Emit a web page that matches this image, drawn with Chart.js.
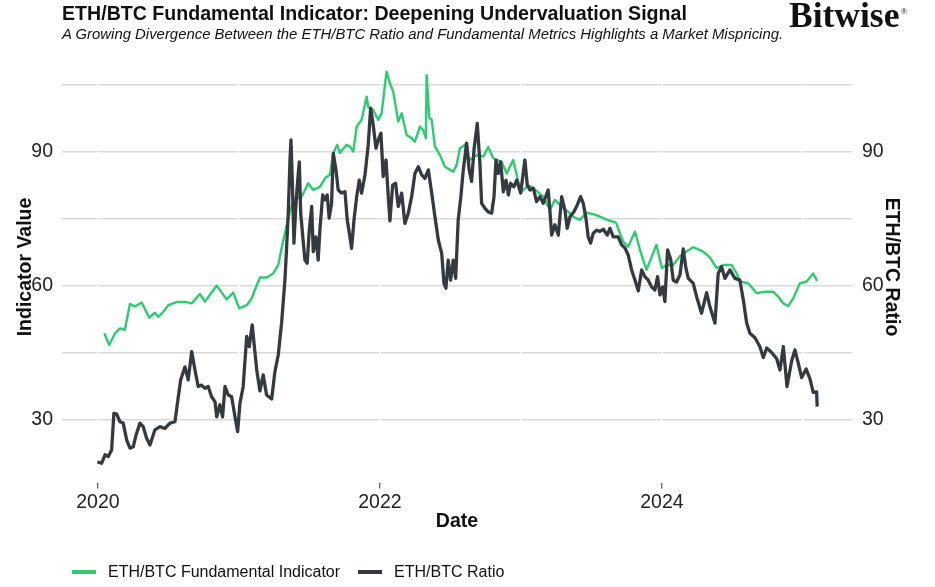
<!DOCTYPE html>
<html>
<head>
<meta charset="utf-8">
<script src="https://cdn.jsdelivr.net/npm/chart.js@4.4.1/dist/chart.umd.min.js"></script>
<style>
    html, body { margin: 0; padding: 0; background: #fff; }
    #wrap { position: relative; width: 935px; height: 587px; overflow: hidden; font-family: 'Liberation Sans', Arial, sans-serif; }
    #chart { position: absolute; left: 0; top: 0; }
    .title { position: absolute; left: 62px; top: 3.5px; font-size: 19.6px; line-height: 1; font-weight: bold; color: #111; white-space: nowrap; }
    .subtitle { position: absolute; left: 62px; top: 26.5px; font-size: 14.9px; line-height: 1; font-style: italic; color: #111; white-space: nowrap; }
    .logo { position: absolute; left: 789px; top: -2.5px; font-family: 'Liberation Serif', 'Times New Roman', serif; font-weight: bold; font-size: 35.5px; line-height: 1; color: #111; white-space: nowrap; }
    .logo sup { font-size: 9px; font-weight: normal; vertical-align: top; position: relative; top: 9px; left: 1px; }
    .legend { position: absolute; left: 72px; top: 563.5px; display: flex; align-items: center; font-size: 16px; line-height: 16px; color: #111; white-space: nowrap; }
    .legend .sw { width: 24px; height: 4px; margin-right: 12px; }
    .legend .item { display: flex; align-items: center; margin-right: 18px; }
</style>
</head>
<body>
<div id="wrap">
    <canvas id="chart" width="935" height="587"></canvas>
    <div class="title">ETH/BTC Fundamental Indicator: Deepening Undervaluation Signal</div>
    <div class="subtitle">A Growing Divergence Between the ETH/BTC Ratio and Fundamental Metrics Highlights a Market Mispricing.</div>
    <div class="logo">Bitwise<sup>®</sup></div>
    <div class="legend" id="legend"></div>
</div>
<script>
// Series (x = decimal year)
const indDates = [
    2020.045, 2020.080, 2020.121, 2020.156, 2020.191, 2020.227, 2020.262, 2020.310, 2020.364, 2020.404,
    2020.428, 2020.463, 2020.499, 2020.558, 2020.629, 2020.665, 2020.723, 2020.759, 2020.842, 2020.913,
    2020.960, 2021.002, 2021.055, 2021.090, 2021.113, 2021.149, 2021.196, 2021.243, 2021.279, 2021.303,
    2021.326, 2021.350, 2021.385, 2021.445, 2021.491, 2021.527, 2021.574, 2021.610, 2021.645, 2021.669,
    2021.697, 2021.716, 2021.764, 2021.787, 2021.811, 2021.835, 2021.870, 2021.906, 2021.917, 2021.952,
    2021.988, 2022.012, 2022.047, 2022.071, 2022.094, 2022.130, 2022.154, 2022.189, 2022.225, 2022.248,
    2022.284, 2022.307, 2022.326, 2022.331, 2022.350, 2022.367, 2022.390, 2022.426, 2022.461, 2022.520,
    2022.544, 2022.567, 2022.603, 2022.638, 2022.686, 2022.733, 2022.768, 2022.804, 2022.863, 2022.899,
    2022.945, 2022.981, 2023.005, 2023.040, 2023.064, 2023.111, 2023.158, 2023.206, 2023.241, 2023.289,
    2023.335, 2023.371, 2023.418, 2023.466, 2023.513, 2023.548, 2023.584, 2023.631, 2023.674, 2023.702,
    2023.726, 2023.761, 2023.809, 2023.844, 2023.890, 2023.961, 2024.000, 2024.033, 2024.080, 2024.128,
    2024.175, 2024.222, 2024.293, 2024.340, 2024.388, 2024.435, 2024.494, 2024.530, 2024.553, 2024.612,
    2024.672, 2024.731, 2024.790, 2024.825, 2024.861, 2024.896, 2024.932, 2024.979, 2025.027, 2025.073,
    2025.101
];
const indValues = [
    49.4, 46.8, 49.4, 50.5, 50.2, 56.0, 55.4, 56.3, 52.9, 54.0,
    53.1, 54.2, 55.7, 56.4, 56.4, 56.1, 58.2, 56.5, 60.1, 57.0,
    58.5, 55.0, 55.7, 57.2, 59.1, 61.9, 61.9, 62.8, 64.7, 68.5,
    71.8, 75.2, 79.3, 80.0, 83.0, 81.5, 82.2, 84.1, 84.9, 89.7,
    91.6, 89.8, 91.6, 91.2, 90.1, 95.7, 97.2, 102.4, 100.1, 99.4,
    97.2, 98.7, 108.0, 105.4, 103.5, 96.8, 98.7, 93.8, 93.1, 92.3,
    95.7, 94.9, 93.1, 107.2, 97.6, 97.2, 91.2, 89.3, 86.7, 85.6,
    87.1, 90.8, 91.6, 88.2, 89.3, 89.0, 91.1, 88.6, 87.8, 85.2,
    88.2, 83.4, 81.1, 82.2, 82.4, 81.3, 80.0, 77.0, 79.3, 77.8,
    76.6, 75.5, 74.8, 76.4, 76.1, 75.7, 75.2, 74.6, 74.2, 71.8,
    69.9, 68.8, 72.2, 68.1, 63.6, 69.2, 64.0, 64.7, 64.7, 66.7,
    67.7, 68.7, 67.7, 66.4, 64.0, 64.7, 64.7, 62.8, 61.0, 60.6,
    58.4, 58.7, 58.7, 57.6, 56.1, 55.5, 57.3, 60.6, 61.0, 62.8,
    61.1
];

const ratioDates = [
    2019.996, 2020.026, 2020.050, 2020.073, 2020.097, 2020.113, 2020.133, 2020.156, 2020.179, 2020.204,
    2020.227, 2020.250, 2020.270, 2020.298, 2020.321, 2020.345, 2020.369, 2020.404, 2020.440, 2020.475,
    2020.511, 2020.546, 2020.570, 2020.587, 2020.617, 2020.640, 2020.665, 2020.688, 2020.711, 2020.735,
    2020.759, 2020.782, 2020.806, 2020.830, 2020.842, 2020.865, 2020.884, 2020.901, 2020.924, 2020.948,
    2020.972, 2020.991, 2021.007, 2021.030, 2021.055, 2021.073, 2021.094, 2021.113, 2021.126, 2021.149,
    2021.172, 2021.196, 2021.232, 2021.255, 2021.279, 2021.303, 2021.326, 2021.338, 2021.350, 2021.362,
    2021.369, 2021.381, 2021.390, 2021.402, 2021.413, 2021.428, 2021.438, 2021.456, 2021.468, 2021.484,
    2021.499, 2021.516, 2021.527, 2021.546, 2021.562, 2021.574, 2021.594, 2021.610, 2021.626, 2021.640,
    2021.657, 2021.669, 2021.688, 2021.704, 2021.728, 2021.752, 2021.768, 2021.787, 2021.799, 2021.816,
    2021.835, 2021.853, 2021.870, 2021.894, 2021.917, 2021.934, 2021.952, 2021.972, 2021.988, 2022.007,
    2022.023, 2022.043, 2022.059, 2022.071, 2022.090, 2022.111, 2022.130, 2022.154, 2022.177, 2022.201,
    2022.225, 2022.248, 2022.272, 2022.296, 2022.319, 2022.343, 2022.367, 2022.390, 2022.414, 2022.438,
    2022.454, 2022.468, 2022.484, 2022.501, 2022.520, 2022.537, 2022.555, 2022.574, 2022.591, 2022.615,
    2022.633, 2022.650, 2022.667, 2022.690, 2022.709, 2022.721, 2022.745, 2022.768, 2022.792, 2022.809,
    2022.823, 2022.839, 2022.856, 2022.875, 2022.894, 2022.911, 2022.927, 2022.950, 2022.970, 2022.998,
    2023.028, 2023.045, 2023.064, 2023.088, 2023.111, 2023.135, 2023.158, 2023.193, 2023.206, 2023.218,
    2023.241, 2023.265, 2023.289, 2023.312, 2023.328, 2023.348, 2023.376, 2023.399, 2023.423, 2023.442,
    2023.461, 2023.477, 2023.494, 2023.513, 2023.537, 2023.560, 2023.584, 2023.612, 2023.631, 2023.655,
    2023.690, 2023.714, 2023.738, 2023.761, 2023.785, 2023.809, 2023.832, 2023.856, 2023.879, 2023.903,
    2023.927, 2023.950, 2023.969, 2023.986, 2024.005, 2024.021, 2024.040, 2024.062, 2024.080, 2024.104,
    2024.128, 2024.151, 2024.170, 2024.187, 2024.222, 2024.246, 2024.281, 2024.317, 2024.340, 2024.376,
    2024.399, 2024.423, 2024.447, 2024.482, 2024.518, 2024.553, 2024.577, 2024.601, 2024.624, 2024.660,
    2024.695, 2024.719, 2024.743, 2024.778, 2024.814, 2024.837, 2024.861, 2024.887, 2024.920, 2024.943,
    2024.967, 2024.991, 2025.023, 2025.050, 2025.073, 2025.097, 2025.101
];
const ratioValues = [
    20.6, 20.3, 22.2, 21.8, 23.3, 31.5, 31.3, 29.6, 29.3, 25.5,
    23.7, 24.0, 26.6, 29.3, 28.5, 25.9, 24.4, 27.8, 28.5, 28.1,
    29.3, 29.6, 35.2, 39.0, 41.9, 39.0, 45.3, 41.2, 37.5, 37.8,
    37.1, 37.5, 35.2, 34.1, 30.7, 33.4, 30.7, 37.5, 35.6, 35.2,
    30.7, 27.4, 33.7, 37.5, 48.7, 46.4, 51.3, 45.3, 41.2, 36.5,
    40.1, 35.6, 34.7, 40.8, 44.6, 51.9, 61.3, 68.5, 76.6, 88.2,
    92.7, 80.8, 69.6, 77.0, 82.2, 87.8, 76.3, 69.9, 65.8, 65.1,
    72.5, 77.8, 67.7, 71.0, 65.8, 72.5, 80.4, 79.3, 80.4, 75.2,
    78.5, 89.7, 86.0, 81.5, 80.8, 81.1, 74.8, 71.0, 68.4, 74.8,
    80.0, 83.7, 80.8, 84.9, 91.6, 99.8, 96.1, 90.8, 92.7, 94.2,
    84.5, 88.2, 80.0, 74.6, 82.6, 83.0, 77.8, 80.8, 74.0, 76.3,
    80.0, 85.2, 86.7, 84.9, 84.1, 86.0, 80.8, 75.5, 70.3, 67.3,
    60.6, 59.5, 65.8, 61.3, 65.8, 61.7, 74.8, 80.0, 86.0, 92.0,
    86.0, 83.4, 90.5, 96.4, 87.5, 78.5, 77.4, 76.6, 76.3, 80.0,
    88.2, 85.2, 87.8, 81.1, 83.7, 80.4, 83.0, 82.2, 83.7, 80.8,
    88.2, 82.6, 81.5, 81.9, 78.9, 80.0, 78.5, 81.5, 76.6, 71.4,
    73.7, 71.4, 80.0, 77.0, 72.9, 75.5, 76.6, 78.1, 80.0, 78.5,
    75.2, 71.0, 69.6, 71.8, 72.5, 72.2, 72.7, 71.4, 72.9, 71.0,
    71.0, 69.2, 68.5, 66.9, 63.6, 61.3, 58.9, 63.6, 62.1, 61.3,
    59.8, 59.1, 62.1, 58.0, 59.8, 56.5, 68.1, 66.0, 61.3, 60.9,
    62.5, 68.3, 64.0, 61.7, 60.6, 57.6, 53.9, 58.5, 55.4, 51.7,
    62.8, 64.3, 61.7, 63.6, 61.7, 61.3, 56.9, 51.7, 49.4, 48.4,
    46.4, 44.0, 46.1, 45.1, 43.7, 41.2, 46.4, 37.5, 43.2, 45.7,
    42.7, 39.5, 41.4, 39.2, 36.2, 36.3, 33.0
];

// Axis ticks
const yearTicks = [2020, 2021, 2022, 2023, 2024, 2025];
const xTickLabels = ['2020', '2022', '2024'];
const yGridValues = [30, 45, 60, 75, 90, 105];
const yTickLabels = ['30', '60', '90'];

const SERIES = [
    { label: 'ETH/BTC Fundamental Indicator', colour: '#2ecc71', width: 2.4, dates: indDates, values: indValues, order: 1 },
    { label: 'ETH/BTC Ratio', colour: '#343a40', width: 3.3, dates: ratioDates, values: ratioValues, order: 0 },
];

const FONT = "'Liberation Sans', Arial, sans-serif";
const TEXT = '#222';
const GRID = '#d9d9d9';

function toPoints(xs, ys) {
    return xs.map((x, i) => ({ x, y: ys[i] }));
}

function yAxis(position, title, titlePad) {
    return {
        type: 'linear',
        position,
        min: 16,
        max: 112.5,
        afterBuildTicks: s => { s.ticks = yGridValues.map(v => ({ value: v })); },
        afterFit: s => { s.width = position === 'left' ? 62 : 83; },
        border: { display: false },
        grid: {
            display: true,
            drawOnChartArea: position === 'left',
            drawTicks: false,
            color: GRID,
            lineWidth: 1.5,
        },
        ticks: {
            padding: position === 'left' ? 9 : 10,
            color: TEXT,
            font: { family: FONT, size: 19.5 },
            callback: v => yTickLabels.includes(String(v)) ? String(v) : '',
        },
        title: {
            display: true,
            text: title,
            color: '#111',
            font: { family: FONT, size: 19.5, weight: 'bold' },
            padding: { top: titlePad, bottom: 0 },
        },
    };
}

const chart = new Chart(document.getElementById('chart'), {
    type: 'line',
    data: {
        datasets: SERIES.map(s => ({
            label: s.label,
            data: toPoints(s.dates, s.values),
            borderColor: s.colour,
            backgroundColor: s.colour,
            borderWidth: s.width,
            borderJoinStyle: 'round',
            pointRadius: 0,
            tension: 0,
            order: s.order,
            yAxisID: 'y',
        })),
    },
    options: {
        responsive: false,
        animation: false,
        layout: { padding: { left: 0, right: 0, top: 51.5, bottom: 44.5 } },
        plugins: {
            legend: { display: false },
            tooltip: { enabled: false },
        },
        scales: {
            y: yAxis('left', 'Indicator Value', 13.5),
            y2: yAxis('right', 'ETH/BTC Ratio', 32),
            x: {
                type: 'linear',
                min: 2019.745,
                max: 2025.348,
                afterBuildTicks: s => { s.ticks = yearTicks.map(v => ({ value: v })); },
                afterFit: s => { s.height = 60; },
                border: { display: false },
                grid: {
                    z: 0,
                    color: '#ffffff',
                    lineWidth: 1.5,
                    tickLength: 6,
                    tickWidth: 1,
                    tickColor: ctx => (ctx.tick && xTickLabels.includes(String(ctx.tick.value))) ? '#333' : 'rgba(0,0,0,0)',
                },
                ticks: {
                    autoSkip: false,
                    maxRotation: 0,
                    padding: 2,
                    color: TEXT,
                    font: { family: FONT, size: 19.5 },
                    callback: v => xTickLabels.includes(String(v)) ? String(v) : '',
                },
                title: {
                    display: true,
                    text: 'Date',
                    color: '#111',
                    font: { family: FONT, size: 19.5, weight: 'bold' },
                    padding: { top: 0, bottom: 8.8 },
                },
            },
        },
    },
});

// HTML legend in the ggplot style
const legend = document.getElementById('legend');
SERIES.forEach(s => {
    const item = document.createElement('div');
    item.className = 'item';
    const sw = document.createElement('div');
    sw.className = 'sw';
    sw.style.background = s.colour;
    const txt = document.createElement('span');
    txt.textContent = s.label;
    item.appendChild(sw);
    item.appendChild(txt);
    legend.appendChild(item);
});
</script>
</body>
</html>
